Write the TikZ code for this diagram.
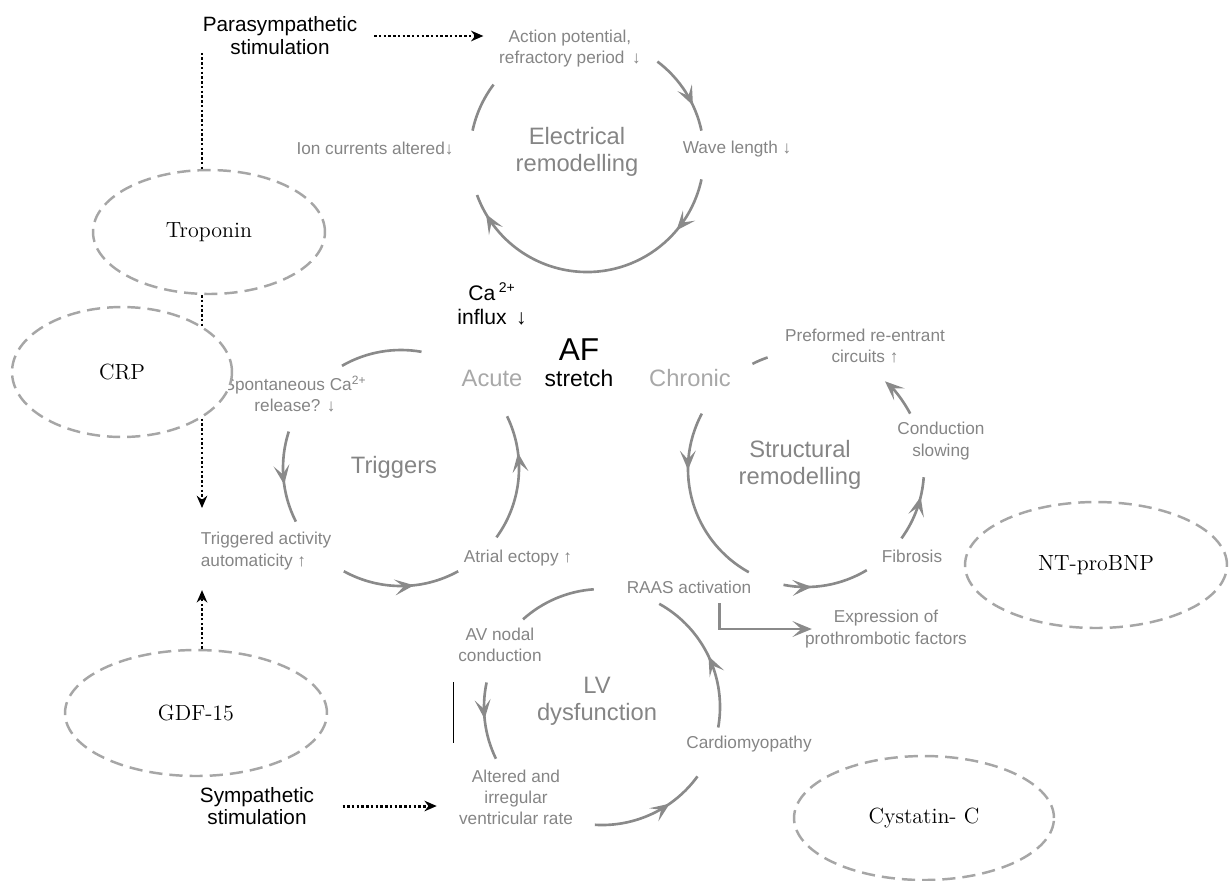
\documentclass[tikz,border=0pt]{standalone}
\usepackage{fontspec}
\setsansfont{Liberation Sans}
\usetikzlibrary{positioning, shapes.geometric, arrows.meta, decorations.markings}
\definecolor{labelgray}{HTML}{858585}
\definecolor{phasegray}{HTML}{A8A8A8}
\definecolor{arcgray}{HTML}{8A8A8A}
\definecolor{markergray}{HTML}{A6A6A6}
\tikzstyle{step-label} = [font=\sffamily\fontsize{9.8}{12}\selectfont, text=labelgray, align=center, inner sep=2pt]
\tikzstyle{cycle-name} = [font=\sffamily\fontsize{13.5}{15.5}\selectfont, text=labelgray, align=center, inner sep=2pt]
\tikzstyle{phase-name} = [cycle-name, text=phasegray]
\tikzstyle{driver} = [font=\sffamily\fontsize{11.8}{13}\selectfont, align=center, inner sep=2pt]
\tikzstyle{bio-marker} = [ellipse, draw=markergray, fill=white, line width=1.4pt,
 dash pattern=on 7.5pt off 4pt, font=\fontsize{12.5}{15}\selectfont, inner sep=0pt]
\tikzstyle{cycle-line} = [draw=arcgray, line width=1.5pt]
\tikzstyle{nerve-line} = [line width=1.7pt, dash pattern=on 1.4pt off 1.3pt]
\tikzstyle{nerve-arrow} = [nerve-line, -{Stealth[length=7pt, width=6pt]}]
\tikzset{
    CycleTip/.tip={Stealth[length=11pt, width=9pt, inset=5pt]},
    tip-at/.style={postaction={decorate}, decoration={markings,
        mark=at position #1 with {\arrow{CycleTip}}}},
    tips-at/.style 2 args={postaction={decorate}, decoration={markings,
        mark=at position #1 with {\arrow{CycleTip}},
        mark=at position #2 with {\arrow{CycleTip}}}}
}
\newcommand{\CycleArc}[5][]{%
    \draw[cycle-line, #1] ([shift={(#4:#3)}]#2) arc[start angle=#4, end angle=#5, radius=#3];
}

\begin{document}
\begin{tikzpicture}[x=0.02cm, y=-0.02cm]

\useasboundingbox (0,0) rectangle (1229,880);

% Centres of the four cycles
\coordinate (ELECTRICAL) at (587,155);
\coordinate (TRIGGERS) at (401,468);
\coordinate (STRUCTURAL) at (806,469);
\coordinate (LV) at (602,707);
\coordinate (NERVE_COLUMN) at (202,0);

% Autonomic drivers
\node (PARASYMPATHETIC) [driver] at (280,36) {Parasympathetic\\stimulation};
\node (SYMPATHETIC) [driver] at (257,806) {Sympathetic\\stimulation};

% Electrical remodelling
\node (ACTION_POTENTIAL) [step-label] at (570,49) {Action potential,\\refractory period\, ↓};
\node (ION_CURRENTS) [step-label] at (375,149) {Ion currents altered↓};
\node (WAVE_LENGTH) [step-label] at (737,149) {Wave length ↓};
\node (ELECTRICAL_NAME) [cycle-name] at (577,152) {Electrical\\remodelling};

\CycleArc{ELECTRICAL}{117}{192}{217}
\CycleArc[tip-at=0.68]{ELECTRICAL}{117}{307}{348}
\CycleArc[tips-at={0.19}{0.93}]{ELECTRICAL}{117}{12}{160}

% AF in the middle
\node (AF) [driver, font=\sffamily\fontsize{18}{20}\selectfont, inner sep=1pt] at (579,350) {AF};
\node (STRETCH) [driver, font=\sffamily\fontsize{13}{15}\selectfont, below=1.5pt of AF] {stretch};
\node (CA_INFLUX) [driver, font=\sffamily\fontsize{12}{14}\selectfont] at (492,304) {Ca\,\textsuperscript{2+}\\influx\, ↓};
\node (ACUTE) [phase-name] at (492,378) {Acute};
\node (CHRONIC) [phase-name] at (690,378) {Chronic};

% Triggers
\node (SPONTANEOUS) [step-label] at (295,394) {Spontaneous Ca\textsuperscript{2+}\\release? ↓};
\node (TRIGGERED) [step-label, align=left, anchor=west] at (197,551) {Triggered activity\\automaticity ↑};
\node (ECTOPY) [step-label] at (518,558) {Atrial ectopy ↑};
\node (TRIGGERS_NAME) [cycle-name] at (394,467) {Triggers};

\CycleArc{TRIGGERS}{118}{280}{240}
\CycleArc[tip-at=0.58]{TRIGGERS}{118}{198}{153}
\CycleArc[tip-at=0.61]{TRIGGERS}{118}{119}{61}
\CycleArc[tip-at=0.7]{TRIGGERS}{118}{36}{-26}

% Structural remodelling
\node (PREFORMED) [step-label] at (865,346) {Preformed re-entrant\\circuits ↑};
\node (CONDUCTION) [step-label] at (941,441) {Conduction\\slowing};
\node (FIBROSIS) [step-label] at (912,556) {Fibrosis};
\node (RAAS) [step-label] at (689,587) {RAAS activation};
\node (PROTHROMBOTIC) [step-label] at (886,629) {Expression of\\prothrombotic factors};
\node (STRUCTURAL_NAME) [cycle-name] at (800,465) {Structural\\remodelling};

\CycleArc{STRUCTURAL}{118}{251}{243}
\CycleArc[tip-at=0.32]{STRUCTURAL}{118}{208}{119}
\CycleArc[tip-at=0.33]{STRUCTURAL}{118}{101}{59}
\CycleArc[tip-at=0.7]{STRUCTURAL}{118}{36}{4}
\CycleArc[-{CycleTip}]{STRUCTURAL}{118}{332}{312}

\draw[cycle-line, -{CycleTip}, shorten <=3.4pt] ([xshift=17.5pt]RAAS.south) |- ([xshift=6pt]PROTHROMBOTIC.west);

% LV dysfunction
\node (AV_NODAL) [step-label] at (500,645) {AV nodal\\conduction};
\node (CARDIOMYOPATHY) [step-label] at (749,744) {Cardiomyopathy};
\node (VENTRICULAR_RATE) [step-label] at (516,797) {Altered and\\irregular\\ventricular rate};
\node (LV_NAME) [cycle-name] at (597,701) {LV\\dysfunction};

\CycleArc{LV}{118}{266}{228}
\CycleArc[tip-at=0.47]{LV}{118}{192}{154}
\CycleArc[tip-at=0.67]{LV}{118}{93.5}{36}
\CycleArc[tip-at=0.5]{LV}{118}{10}{-61}

\draw[line width=0.4pt] (453,682) -- (453,743);

% Nerve arrows
\draw[nerve-arrow, shorten <=7.4pt, shorten >=6.8pt] (PARASYMPATHETIC.east) -- (PARASYMPATHETIC.east -| ACTION_POTENTIAL.west);
\draw[nerve-arrow, shorten <=14pt, shorten >=10.5pt] (SYMPATHETIC.east) -- (SYMPATHETIC.east -| VENTRICULAR_RATE.west);

% Biomarkers
\node (TROPONIN) [bio-marker, minimum width=4.64cm, minimum height=2.48cm] at (209,232) {Troponin};
\node (GDF) [bio-marker, minimum width=5.24cm, minimum height=2.52cm] at (196,713) {GDF-15};
\node (NT_PROBNP) [bio-marker, minimum width=5.24cm, minimum height=2.52cm] at (1096,565) {NT-proBNP};
\node (CYSTATIN) [bio-marker, minimum width=5.2cm, minimum height=2.48cm] at (924,818) {Cystatin- C};

\draw[nerve-line, shorten <=-3.5pt] (PARASYMPATHETIC.south -| NERVE_COLUMN) -- (TROPONIN.north -| NERVE_COLUMN);
\draw[nerve-arrow, shorten >=11.7pt] (TROPONIN.south -| NERVE_COLUMN) -- (TRIGGERED.north -| NERVE_COLUMN);
\draw[nerve-arrow, shorten >=9.5pt] (GDF.north -| NERVE_COLUMN) -- (TRIGGERED.south -| NERVE_COLUMN);

\node (CRP) [bio-marker, minimum width=4.4cm, minimum height=2.6cm] at (122,372) {CRP};

\end{tikzpicture}
\end{document}
